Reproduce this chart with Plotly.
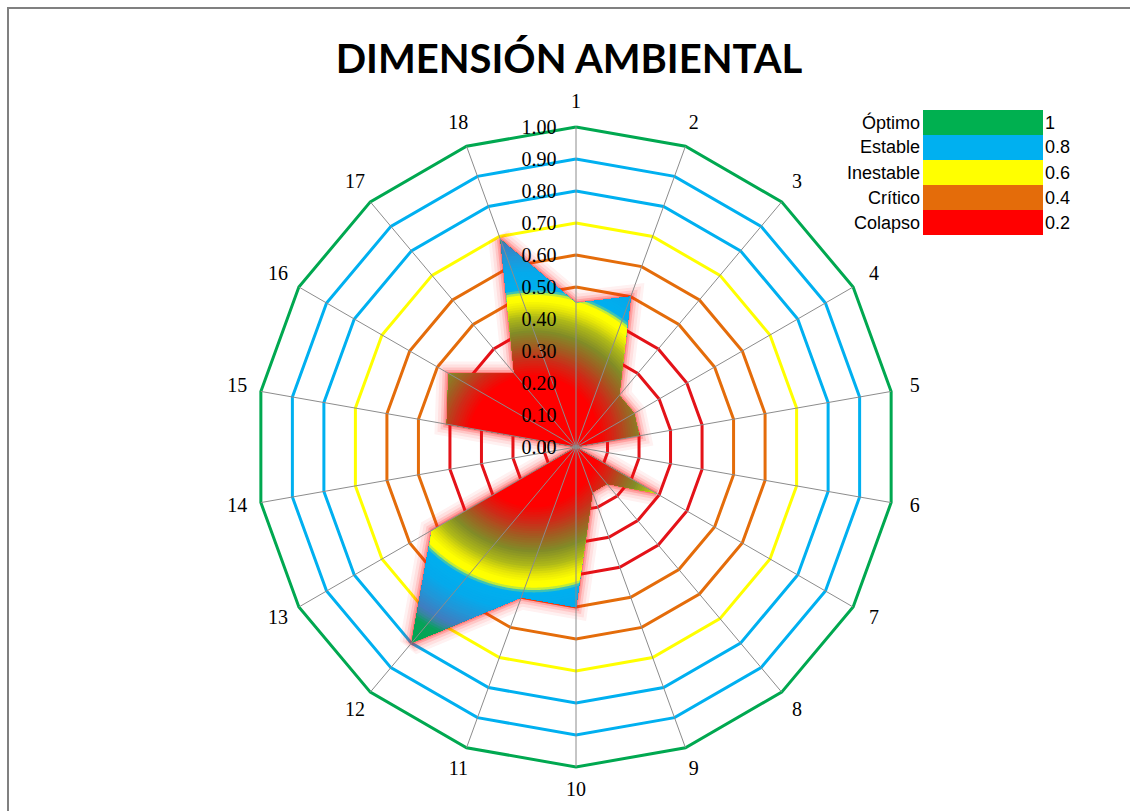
import numpy as np
import plotly.graph_objects as go

# ---- data ----
categories = [str(i) for i in range(1, 19)]
values = [0.45, 0.50, 0.21, 0.21, 0.20, 0.00, 0.29, 0.15, 0.15,
          0.50, 0.50, 0.80, 0.52, 0.00, 0.41, 0.46, 0.30, 0.69]

ring_levels = [0.1, 0.2, 0.3, 0.4, 0.5, 0.6, 0.7, 0.8, 0.9, 1.0]
RED, ORANGE, YELLOW, BLUE, GREEN = ("rgb(228,18,24)", "rgb(228,108,10)",
                                    "rgb(255,255,0)", "rgb(0,176,240)",
                                    "rgb(0,168,80)")
ring_colors = [RED, RED, RED, RED, ORANGE, ORANGE, YELLOW, BLUE, BLUE, GREEN]

tick_values = [round(0.1 * i, 1) for i in range(11)]
tick_labels = ["%.2f" % v for v in tick_values]

legend_labels = ["Óptimo", "Estable", "Inestable", "Crítico", "Colapso"]
legend_values = ["1", "0.8", "0.6", "0.4", "0.2"]
legend_colors = ["rgb(0,176,80)", "rgb(0,176,240)", "rgb(255,255,0)",
                 "rgb(228,108,10)", "rgb(255,0,0)"]

# radial fill gradient: position (0 = centre of the shape's box, 1 = its corner)
grad_pos = [0.00, 0.28, 0.35, 0.41, 0.47, 0.53, 0.57, 0.60, 0.625, 0.645,
            0.72, 0.79, 0.85, 0.875, 0.905, 1.00]
grad_rgb = [(255, 0, 0), (255, 0, 0), (205, 45, 25), (160, 95, 35),
            (130, 140, 40), (175, 185, 25), (230, 230, 8), (255, 255, 0),
            (255, 255, 0), (0, 176, 240), (5, 170, 236), (35, 150, 215),
            (65, 125, 192), (55, 135, 160), (8, 162, 90), (0, 170, 80)]

R_MAX = 1.1          # radial range; the outer ring sits at 1.0
LABEL_R = 1.075      # where the category numbers are written

# ---- geometry helpers ----
n = len(categories)
angles = np.arange(n) * 360.0 / n           # clockwise from the top
vals = np.array(values)
rad = np.deg2rad(angles)
px = vals * np.sin(rad)
py = vals * np.cos(rad)

# bounding box of the shape -> gradient centre and extent
cx = (px.min() + px.max()) / 2
cy = (py.min() + py.max()) / 2
R = np.hypot(px.max() - cx, py.max() - cy)


def poly_radius(theta_deg):
    """Distance from origin to the polygon edge along a ray."""
    u = np.array([np.sin(np.deg2rad(theta_deg)), np.cos(np.deg2rad(theta_deg))])
    k = int(np.floor(theta_deg / (360.0 / n))) % n
    p0 = np.array([px[k], py[k]])
    p1 = np.array([px[(k + 1) % n], py[(k + 1) % n]])
    e = p1 - p0
    num = p0[0] * e[1] - p0[1] * e[0]
    den = u[0] * e[1] - u[1] * e[0]
    if abs(den) < 1e-12:
        return 0.0
    return max(num / den, 0.0)


def disk_radius(theta_deg, d):
    u = np.array([np.sin(np.deg2rad(theta_deg)), np.cos(np.deg2rad(theta_deg))])
    w = np.array([cx, cy])
    b = u @ w
    disc = b * b - w @ w + d * d
    return b + np.sqrt(max(disc, 0.0))


def grad_color(t):
    r = np.interp(t, grad_pos, [c[0] for c in grad_rgb])
    g = np.interp(t, grad_pos, [c[1] for c in grad_rgb])
    b = np.interp(t, grad_pos, [c[2] for c in grad_rgb])
    return "rgb(%d,%d,%d)" % (r, g, b)


thetas = np.unique(np.concatenate([np.linspace(0, 360, 1441)[:-1], angles]))
poly_r = np.array([poly_radius(t) for t in thetas])

fig = go.Figure()

# coloured rings
for lvl, col in zip(ring_levels, ring_colors):
    fig.add_trace(go.Scatterpolar(
        r=[lvl] * (n + 1), theta=list(angles) + [360.0],
        mode="lines", line=dict(color=col, width=3),
        hoverinfo="skip", showlegend=False))

# soft red glow around the shape
closed_r = list(values) + [values[0]]
closed_t = list(angles) + [360.0]
for w, a in [(24, 0.06), (18, 0.08), (12, 0.12), (7, 0.2), (3, 0.3)]:
    fig.add_trace(go.Scatterpolar(
        r=closed_r, theta=closed_t, mode="lines",
        line=dict(color="rgba(255,20,20,%.2f)" % a, width=w),
        hoverinfo="skip", showlegend=False))

# gradient fill built as stacked clipped layers
for t in np.arange(1.0, 0.27, -0.01):
    d = t * R
    disk_r = np.array([disk_radius(th, d) for th in thetas])
    rr = np.minimum(poly_r, disk_r)
    fig.add_trace(go.Scatterpolar(
        r=np.append(rr, rr[0]), theta=np.append(thetas, 360.0),
        mode="lines", fill="toself", line=dict(width=0),
        fillcolor=grad_color(t), hoverinfo="skip", showlegend=False))

# spokes from the centre to the outer ring, drawn over the fill
spoke_r, spoke_t = [], []
for a in angles:
    spoke_r += [0, ring_levels[-1], None]
    spoke_t += [a, a, None]
fig.add_trace(go.Scatterpolar(
    r=spoke_r, theta=spoke_t, mode="lines", connectgaps=False,
    line=dict(color="rgb(140,140,140)", width=1),
    hoverinfo="skip", showlegend=False))

# category labels around the outer ring
fig.add_trace(go.Scatterpolar(
    r=[LABEL_R] * n, theta=angles, mode="text", text=categories,
    textposition="middle center",
    textfont=dict(family="Liberation Serif", size=20, color="black"),
    hoverinfo="skip", showlegend=False))

# polar disc of radius 352 px so that r = 1.0 spans 320 px
cx_px, cy_px, rad_px = 576, 811 - 447, 320 * R_MAX
fig.update_layout(
    width=1130, height=811,
    margin=dict(l=0, r=0, t=0, b=0),
    paper_bgcolor="white",
    showlegend=False,
    title=dict(text="<b>DIMENSIÓN AMBIENTAL</b>", x=0.5035, y=0.927,
               xanchor="center", yanchor="middle",
               font=dict(family="Lato", size=40, color="black")),
    polar=dict(
        domain=dict(x=[(cx_px - rad_px) / 1130, (cx_px + rad_px) / 1130],
                    y=[(cy_px - rad_px) / 811, (cy_px + rad_px) / 811]),
        bgcolor="rgba(0,0,0,0)",
        radialaxis=dict(
            range=[0, R_MAX], angle=90, side="counterclockwise", tickangle=90,
            tickmode="array", tickvals=tick_values, ticktext=tick_labels,
            ticks="outside", ticklen=12, tickcolor="rgba(0,0,0,0)",
            showline=False, showgrid=False, layer="above traces",
            tickfont=dict(family="Liberation Serif", size=20, color="black")),
        angularaxis=dict(
            rotation=90, direction="clockwise", thetaunit="degrees",
            ticks="", showticklabels=False,
            showline=False, showgrid=False),
    ),
)

# legend table (colour boxes with labels and thresholds)
row_h = 25
top = 110
for i, (lab, val, col) in enumerate(zip(legend_labels, legend_values, legend_colors)):
    y1 = 1 - (top + i * row_h) / 811
    y0 = 1 - (top + (i + 1) * row_h) / 811
    ym = (y0 + y1) / 2
    fig.add_shape(type="rect", xref="paper", yref="paper",
                  x0=923 / 1130, x1=1043 / 1130, y0=y0, y1=y1,
                  fillcolor=col, line=dict(width=0))
    fig.add_annotation(xref="paper", yref="paper", x=922 / 1130, y=ym,
                       text=lab, showarrow=False, xanchor="right",
                       yanchor="middle",
                       font=dict(family="Liberation Sans", size=18, color="black"))
    fig.add_annotation(xref="paper", yref="paper", x=1043 / 1130, y=ym,
                       text=val, showarrow=False, xanchor="left",
                       yanchor="middle",
                       font=dict(family="Liberation Sans", size=18, color="black"))

# frame around the chart area
fig.add_shape(type="rect", xref="paper", yref="paper",
              x0=8 / 1130, x1=1.05, y0=-0.05, y1=1 - 8 / 811,
              line=dict(color="rgb(128,128,128)", width=2),
              fillcolor="rgba(0,0,0,0)", layer="below")

fig.write_html("out.html")
